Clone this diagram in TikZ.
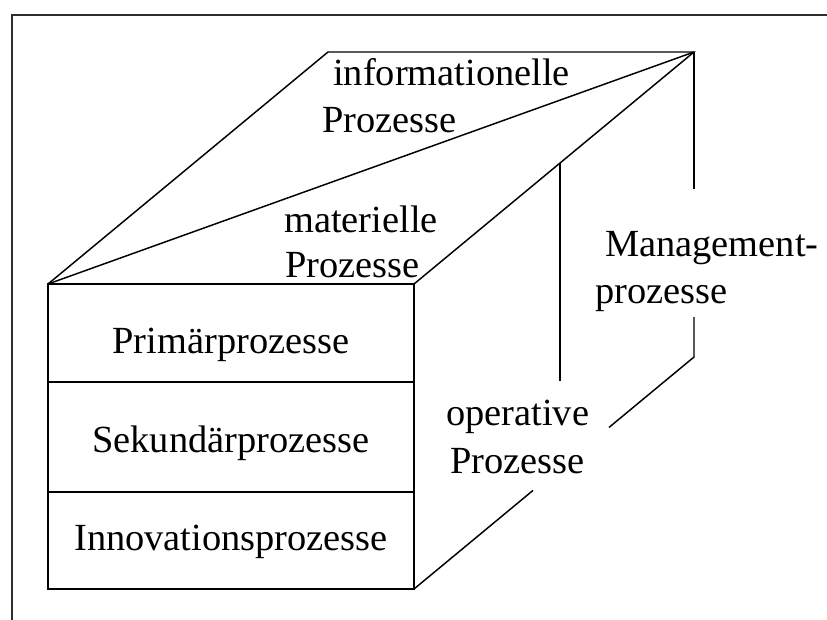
\documentclass[tikz,border=0pt]{standalone}
\usepackage{fontspec}
\setmainfont{Liberation Serif}
\usetikzlibrary{calc}
\begin{document}
\begin{tikzpicture}[x=0.75pt,y=-0.75pt,
  edge/.style={line width=1.1pt,draw=black},
  frameline/.style={line width=1.6pt,draw=black!82},
  txt/.style={inner sep=0pt,font=\fontsize{28.8}{35.25}\selectfont},
  lbl/.style={txt,anchor=base west},
  cell/.style={txt,anchor=base}]
\useasboundingbox (0,0) rectangle (827,619);
\fill[white] (0,0) rectangle (827,619);

% outer frame (top and left edges)
\coordinate (fBL) at (12,621);
\coordinate (fTL) at (12,15);
\coordinate (fTR) at (829,15);
\draw[frameline] (fBL) -- (fTL) -- (fTR);

% cuboid corners
\coordinate (A) at (48,284);   % front top left
\coordinate (B) at (414,284);  % front top right
\coordinate (C) at (414,589);  % front bottom right
\coordinate (D) at (48,589);   % front bottom left
\coordinate (E) at (694,52);   % back top right
\coordinate (F) at (328,52);   % back top left
\coordinate (G) at (694,357);  % back bottom right
\coordinate (R1) at (48,382);
\coordinate (R1e) at (414,382);
\coordinate (R2) at (48,492);
\coordinate (R2e) at (414,492);
\coordinate (M1) at (560,163); % on edge B--E
\coordinate (M2) at (560,381);

% front face with three rows
\draw[edge] (A) -- (B) -- (C) -- (D) -- cycle;
\draw[edge] (R1) -- (R1e);
\draw[edge] (R2) -- (R2e);

% top face, split by its diagonal
\draw[edge] (A) -- (F) -- (E) -- (B);
\draw[edge] (A) -- (E);

% right face, split by a vertical line
\draw[edge] (M1) -- (M2);
\draw[edge] (E) -- ($(E)!0.4502!(G)$);
\draw[edge] ($(E)!0.8689!(G)$) -- (G) -- ($(G)!0.3036!(C)$);
\draw[edge] ($(G)!0.575!(C)$) -- (C);

% row labels
\node[cell] (prim) at (231,353) {Primärprozesse};
\node[cell] (sek)  at (231,452) {Sekundärprozesse};
\node[cell] (inno) at (231,550) {Innovationsprozesse};

% face labels
\node[lbl] (info1) at (333,85)  {informationelle};
\node[lbl] (info2) at (322,132) {Prozesse};
\node[lbl] (mat1)  at (284,232) {materielle};
\node[lbl] (mat2)  at (285,277) {Prozesse};
\node[lbl] (man1)  at (605,256) {Management-};
\node[lbl] (man2)  at (595,303) {prozesse};
\node[lbl] (op1)   at (446,425) {operative};
\node[lbl] (op2)   at (450,473) {Prozesse};
\end{tikzpicture}
\end{document}
